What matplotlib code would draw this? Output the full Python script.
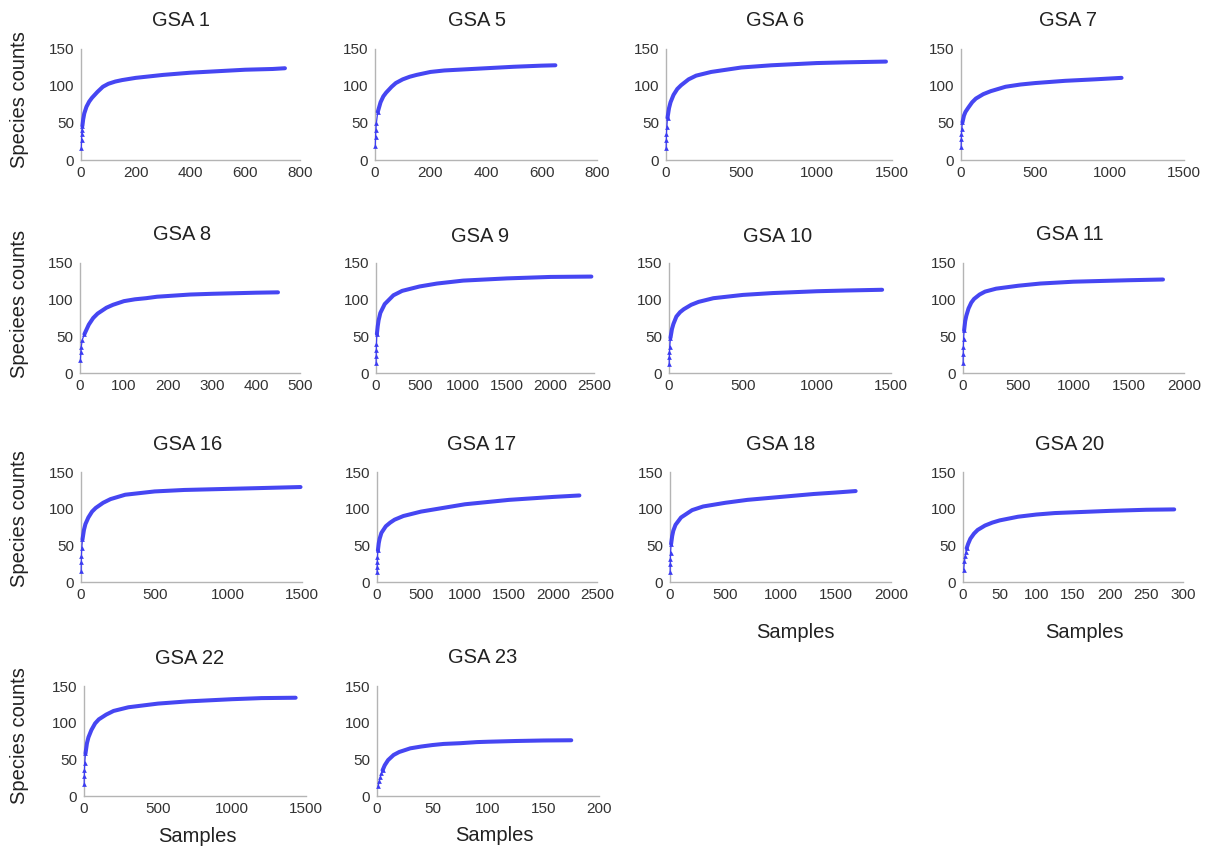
import matplotlib
matplotlib.use('Agg')
import matplotlib.pyplot as plt

# ---------------- data ----------------
titles = ["GSA 1", "GSA 5", "GSA 6", "GSA 7",
          "GSA 8", "GSA 9", "GSA 10", "GSA 11",
          "GSA 16", "GSA 17", "GSA 18", "GSA 20",
          "GSA 22", "GSA 23"]

gsa1_x = [1, 2, 3, 4, 5, 8, 12, 20, 30, 40, 50, 60, 80, 100, 125, 150, 175, 200, 250, 300, 400, 500, 600, 700, 745]
gsa1_y = [16, 27, 35, 41, 46, 55, 63, 72, 79, 84, 88, 92, 99, 103, 106, 108, 109.5, 111, 113, 115, 118, 120, 122, 123, 124]

gsa5_x = [1, 2, 3, 5, 10, 20, 30, 40, 50, 60, 75, 100, 125, 150, 175, 200, 250, 300, 400, 500, 600, 650]
gsa5_y = [19, 31, 40, 50, 65, 78, 86, 91, 95, 99, 104, 109, 112.5, 115, 117, 119, 121, 122, 124, 126, 127.5, 128]

gsa6_x = [1, 2, 3, 5, 10, 20, 30, 50, 75, 100, 150, 200, 300, 400, 500, 700, 1000, 1200, 1460]
gsa6_y = [16, 27, 35, 44, 57, 70, 78, 88, 96, 101, 109, 114, 119, 122, 125, 128, 131, 132, 133]

gsa7_x = [1, 2, 3, 5, 10, 20, 30, 50, 75, 100, 150, 200, 300, 400, 500, 700, 900, 1080]
gsa7_y = [18, 28, 35, 42, 51, 60, 65, 71, 78, 83, 89, 93, 99, 102, 104, 107, 109, 111]

gsa8_x = [1, 2, 3, 5, 10, 20, 30, 40, 50, 60, 75, 100, 125, 150, 175, 200, 250, 300, 400, 450]
gsa8_y = [18, 28, 36, 45, 53, 66, 75, 81, 85, 89, 93, 98, 100.5, 102, 104, 105, 107, 108, 109.5, 110]

gsa9_x = [1, 2, 3, 5, 10, 20, 30, 50, 100, 200, 300, 500, 700, 1000, 1500, 2000, 2470]
gsa9_y = [14, 23, 31, 40, 53, 64, 72, 82, 94, 106, 112, 118, 122, 126, 129, 131, 131.5]

gsa10_x = [1, 2, 3, 5, 10, 20, 30, 50, 75, 100, 150, 200, 300, 500, 700, 1000, 1200, 1440]
gsa10_y = [12, 22, 28, 36, 48, 60, 67, 77, 83, 87, 93, 97, 102, 106.5, 109, 111.5, 112.5, 113.5]

gsa11_x = [1, 2, 3, 5, 10, 20, 30, 50, 75, 100, 150, 200, 300, 500, 700, 1000, 1500, 1810]
gsa11_y = [14, 26, 35, 46, 58, 71, 78, 88, 96, 101, 107, 111, 115, 119, 122, 124.5, 126.5, 127.5]

gsa16_x = [1, 2, 3, 5, 10, 20, 30, 50, 75, 100, 150, 200, 300, 500, 700, 1000, 1200, 1490]
gsa16_y = [15, 27, 36, 46, 58, 71, 79, 88, 96, 101, 108, 113, 119, 123.5, 125.5, 127, 128, 129.5]

gsa17_x = [1, 2, 3, 5, 10, 20, 30, 50, 100, 150, 200, 300, 400, 500, 700, 1000, 1500, 2000, 2300]
gsa17_y = [14, 21, 27, 34, 43, 53, 59, 67, 76, 81, 85, 90, 93, 96, 100, 106, 112, 116, 118]

gsa18_x = [1, 2, 3, 5, 10, 20, 30, 50, 100, 200, 300, 500, 700, 1000, 1300, 1500, 1680]
gsa18_y = [14, 24, 31, 40, 52, 63, 70, 78, 88, 98, 103, 108, 112, 116, 120, 122, 124]

gsa20_x = [1, 2, 3, 4, 5, 7, 10, 15, 20, 30, 40, 50, 60, 75, 100, 125, 150, 200, 250, 288]
gsa20_y = [17, 28, 36, 41, 46, 52, 59, 66, 71, 77, 81, 84, 86, 89, 92, 94, 95, 97, 98.5, 99]

gsa22_x = [1, 2, 3, 5, 10, 20, 30, 50, 75, 100, 150, 200, 300, 500, 700, 1000, 1200, 1430]
gsa22_y = [16, 27, 35, 45, 58, 72, 80, 90, 99, 104.5, 111, 116, 121, 126, 129, 132, 133.5, 134]

gsa23_x = [1, 2, 3, 4, 5, 7, 10, 15, 20, 30, 40, 50, 60, 75, 90, 100, 125, 150, 175]
gsa23_y = [13, 20, 26, 31, 35, 42, 49, 56, 60, 65, 67.5, 69.5, 71, 72, 73.5, 74, 75, 75.7, 76]

series_x = [gsa1_x, gsa5_x, gsa6_x, gsa7_x, gsa8_x, gsa9_x, gsa10_x, gsa11_x,
            gsa16_x, gsa17_x, gsa18_x, gsa20_x, gsa22_x, gsa23_x]
series_y = [gsa1_y, gsa5_y, gsa6_y, gsa7_y, gsa8_y, gsa9_y, gsa10_y, gsa11_y,
            gsa16_y, gsa17_y, gsa18_y, gsa20_y, gsa22_y, gsa23_y]

x_max = [800, 800, 1500, 1500, 500, 2500, 1500, 2000, 1500, 2500, 2000, 300, 1500, 200]
x_step = [200, 200, 500, 500, 100, 500, 500, 500, 500, 500, 500, 50, 500, 50]
y_ticks = [0, 50, 100, 150]

y_labels = ["Species counts", "Speciees counts", "Species counts", "Species counts"]
x_label = "Samples"

# ---------------- layout (pixels) ----------------
W, H = 1205, 847
# (x of 0, x of xmax, y of 150, y of 0)
axes_px = [(81, 300, 49, 160), (375, 597, 49, 160), (666, 892, 49, 160), (961, 1184, 49, 160),
           (80, 300, 263, 373), (376, 594, 263, 373), (669, 891, 263, 373), (963, 1184, 263, 373),
           (81, 302, 472, 582), (377, 597, 472, 582), (670, 891, 472, 582), (963, 1183, 472, 582),
           (84, 306, 686, 796), (377, 599, 686, 796)]
title_px = [(181, 20), (477, 21), (775, 21), (1068, 21),
            (182, 235), (480, 236), (778, 236), (1070, 235),
            (188, 444), (482, 444), (781, 444), (1070, 445),
            (190, 659), (483, 657)]
ylabel_px = [(20, 100), (20, 304), (20, 519), (20, 736)]
xlabel_px = [(795, 632), (1084, 632), (197, 836), (494, 835)]

plt.rcParams['font.family'] = ['Liberation Sans', 'DejaVu Sans']
fig = plt.figure(figsize=(W / 100, H / 100), dpi=100)

blue = '#3c3cf2'
spine_col = '#b4b4b4'
txt_col = '#222222'

for i, t in enumerate(titles):
    x0, x1, yt, yb = axes_px[i]
    ax = fig.add_axes([x0 / W, 1 - yb / H, (x1 - x0) / W, (yb - yt) / H])
    xs, ys = series_x[i], series_y[i]
    # sparse first samples: thin line with triangle markers
    ax.plot(xs[:5], ys[:5], color=blue, lw=0.9, marker='^', ms=3.4, mew=0,
            clip_on=False, zorder=3)
    # dense remainder: solid band of overlapping triangles
    ax.plot(xs[4:], ys[4:], color=blue, lw=2.9, solid_capstyle='round',
            solid_joinstyle='round', alpha=0.95, clip_on=False, zorder=3)
    ax.set_xlim(0, x_max[i])
    ax.set_ylim(0, 150)
    ax.set_xticks(list(range(0, x_max[i] + 1, x_step[i])))
    ax.set_yticks(y_ticks)
    for s in ['top', 'right']:
        ax.spines[s].set_visible(False)
    for s in ['left', 'bottom']:
        ax.spines[s].set_color(spine_col)
        ax.spines[s].set_linewidth(1.0)
    ax.tick_params(length=0, labelsize=11, colors='#333333', pad=4)
    ax.tick_params(axis='y', pad=5)
    ax.set_facecolor('none')
    tx, ty = title_px[i]
    fig.text(tx / W, 1 - ty / H, t, ha='center', va='center',
             fontsize=14.5, color=txt_col)

for (lx, ly), lab in zip(ylabel_px, y_labels):
    fig.text(lx / W, 1 - ly / H, lab, rotation=90, ha='center', va='center',
             fontsize=14.5, color=txt_col)
for (lx, ly) in xlabel_px:
    fig.text(lx / W, 1 - ly / H, x_label, ha='center', va='center',
             fontsize=14.5, color=txt_col)

fig.savefig('out.png', dpi=100, facecolor='white')
